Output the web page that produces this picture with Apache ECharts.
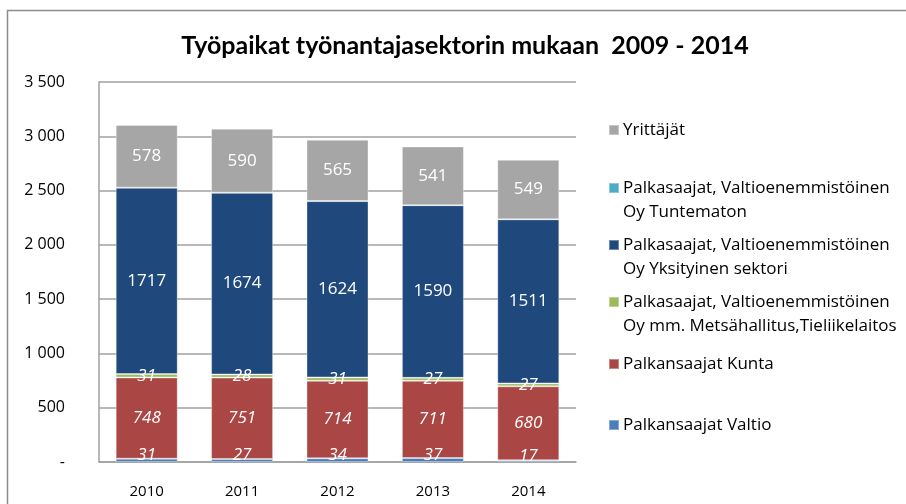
<!DOCTYPE html>
<html>
<head>
<meta charset="utf-8">
<script src="https://cdn.jsdelivr.net/npm/echarts@6/dist/echarts.min.js"></script>
<style>
html, body { margin: 0; padding: 0; background: #fff; }
#main { width: 906px; height: 504px; }
</style>
</head>
<body>
<div id="main"></div>
<script>
// vuodet ja sarjat
var years = ['2010', '2011', '2012', '2013', '2014'];
var valtio = [31, 27, 34, 37, 17];
var kunta = [748, 751, 714, 711, 680];
var metsa = [31, 28, 31, 27, 27];
var yksityinen = [1717, 1674, 1624, 1590, 1511];
var tuntematon = [0, 0, 0, 0, 0];
var yrittajat = [578, 590, 565, 541, 549];

var names = [
	'Palkansaajat Valtio',
	'Palkansaajat Kunta',
	'Palkasaajat, Valtioenemmistöinen Oy mm. Metsähallitus,Tieliikelaitos',
	'Palkasaajat, Valtioenemmistöinen Oy Yksityinen sektori',
	'Palkasaajat, Valtioenemmistöinen Oy Tuntematon',
	'Yrittäjät'
];
var colors = ['#4a7ebb', '#aa4643', '#9bbb59', '#1f497d', '#4bacc6', '#a6a6a6'];
var datas = [valtio, kunta, metsa, yksityinen, tuntematon, yrittajat];
var italic = [true, true, true, false, false, false];
var legendTops = [413, 352, 290, 233, 176, 118];

var font = '"Open Sans", "Liberation Sans", sans-serif';

var series = datas.map(function(d, i) {
	return {
		name: names[i],
		type: 'bar',
		stack: 'total',
		barWidth: '65%',
		data: d,
		itemStyle: {
			color: colors[i],
			borderColor: 'rgba(255,255,255,0.35)',
			borderWidth: 1
		},
		label: {
			show: i !== 4,
			position: 'inside',
			color: '#fff',
			fontFamily: font,
			fontSize: 17,
			fontStyle: italic[i] ? 'italic' : 'normal',
			offset: i === 0 ? [0, -5] : [0, 0]
		}
	};
});

// legenda: yksi komponentti per rivi, jotta sijainnit osuvat
var legends = names.map(function(n, i) {
	var twoLine = n.indexOf(' Oy ') > 0;
	return {
		data: [n],
		orient: 'vertical',
		left: 608,
		top: legendTops[i],
		padding: 0,
		itemWidth: 10,
		itemHeight: twoLine ? 34 : 10,
		icon: twoLine ? 'path://M0,0H10V10H0Z M0,33.9H0.01V34H0Z' : 'rect',
		itemGap: 0,
		selectedMode: false,
		formatter: function(name) {
			return name.replace(' Oy ', '\nOy ');
		},
		textStyle: {
			fontFamily: font,
			fontSize: 17,
			color: '#000',
			lineHeight: 24,
			padding: [0, 0, 0, -1]
		}
	};
});

var myChart = echarts.init(document.getElementById('main'));
var option = {
	backgroundColor: '#fff',
	animation: false,
	title: {
		text: 'Työpaikat työnantajasektorin mukaan  2009 - 2014',
		left: 460,
		textAlign: 'center',
		top: 28,
		textStyle: {
			fontFamily: 'Lato, "Open Sans", sans-serif',
			fontWeight: 'bold',
			fontSize: 25,
			color: '#000'
		}
	},
	graphic: [{
		type: 'rect',
		shape: { x: 7.5, y: 10.5, width: 1000, height: 600 },
		style: { fill: 'none', stroke: '#8c8c8c', lineWidth: 1.5 },
		silent: true
	}],
	legend: legends,
	grid: {
		left: 99,
		right: 330,
		top: 82,
		bottom: 42
	},
	xAxis: {
		type: 'category',
		data: years,
		axisTick: { show: false },
		axisLine: { lineStyle: { color: '#a0a0a0', width: 1.5 } },
		axisLabel: {
			margin: 22,
			color: '#000',
			fontFamily: font,
			fontSize: 15
		}
	},
	yAxis: {
		type: 'value',
		min: 0,
		max: 3500,
		interval: 500,
		axisLine: { show: true, lineStyle: { color: '#a0a0a0', width: 1.5 } },
		axisTick: { show: false },
		splitLine: { lineStyle: { color: '#a0a0a0', width: 1.5 } },
		axisLabel: {
			margin: 34,
			color: '#000',
			fontFamily: font,
			fontSize: 16,
			formatter: function(v) {
				if(v === 0) return '-';
				return String(v).replace(/\B(?=(\d{3})+(?!\d))/g, ' ');
			}
		}
	},
	series: series
};
myChart.setOption(option);
</script>
</body>
</html>
